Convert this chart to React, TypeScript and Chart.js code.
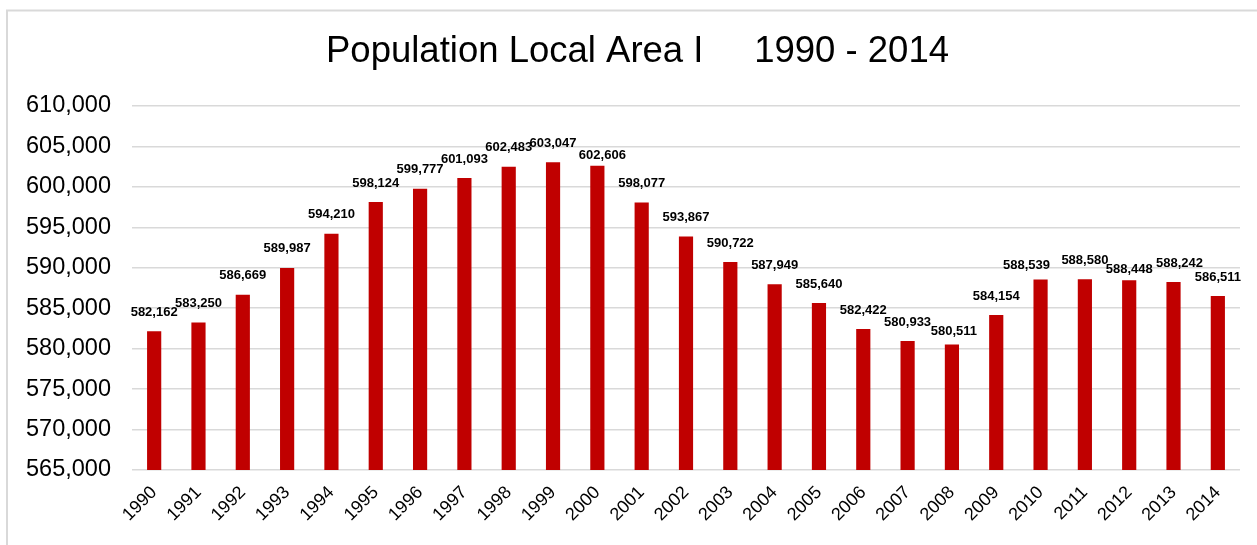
import React, { useEffect, useRef } from "react";
import { Chart, registerables } from "chart.js";

Chart.register(...registerables);

const years = [
  "1990", "1991", "1992", "1993", "1994", "1995", "1996", "1997", "1998", "1999",
  "2000", "2001", "2002", "2003", "2004", "2005", "2006", "2007", "2008", "2009",
  "2010", "2011", "2012", "2013", "2014",
];

const population = [
  582162, 583250, 586669, 589987, 594210, 598124, 599777, 601093, 602483, 603047,
  602606, 598077, 593867, 590722, 587949, 585640, 582422, 580933, 580511, 584154,
  588539, 588580, 588448, 588242, 586511,
];

// manual label nudges (px) as in the original chart, where labels were moved to avoid overlap
const labelNudgeX = [
  0, 0, 0, 0, 0, 0, 0, 0, 0, 0,
  5, 0, 0, 0, 0, 0, 0, 0, 2, 0,
  -14, 0, 0, 6, 0,
];
const labelNudgeY = [
  0, 0, 0, 0, 0, 0, 0, 0, 0, 0,
  8.5, 0, 0, 0, 0, 0, 0, 0, 6, 0,
  4.5, 0, 8, 0, 0,
];

const titleText = "Population Local Area I     1990 - 2014";
const yMin = 565000;
const yMax = 610000;
const yStep = 5000;

const FONT = "'Liberation Sans', Arial, sans-serif";

const frame = {
  id: "frame",
  beforeDraw(chart: any) {
    const ctx = chart.ctx;
    ctx.save();
    ctx.fillStyle = "#ffffff";
    ctx.fillRect(0, 0, chart.width, chart.height);
    ctx.strokeStyle = "#d9d9d9";
    ctx.lineWidth = 2;
    ctx.beginPath();
    ctx.moveTo(7, chart.height);
    ctx.lineTo(7, 10.5);
    ctx.lineTo(chart.width, 10.5);
    ctx.stroke();
    ctx.restore();
  },
  afterDraw(chart: any) {
    const ctx = chart.ctx;
    ctx.save();
    ctx.font = `36.5px ${FONT}`;
    ctx.fillStyle = "#000000";
    ctx.textAlign = "center";
    ctx.textBaseline = "middle";
    ctx.fillText(titleText, 637.5, 52);
    ctx.restore();
  },
};

const valueLabels = {
  id: "valueLabels",
  afterDatasetsDraw(chart: any) {
    const ctx = chart.ctx;
    const meta = chart.getDatasetMeta(0);
    const data = chart.data.datasets[0].data as number[];
    ctx.save();
    ctx.font = `bold 13px ${FONT}`;
    ctx.fillStyle = "#000000";
    ctx.textAlign = "center";
    ctx.textBaseline = "middle";
    meta.data.forEach((bar: any, i: number) => {
      ctx.fillText(
        data[i].toLocaleString("en-US"),
        bar.x + (labelNudgeX[i] || 0),
        bar.y - 19 + (labelNudgeY[i] || 0)
      );
    });
    ctx.restore();
  },
};

export default function App() {
  const ref = useRef<HTMLCanvasElement | null>(null);

  useEffect(() => {
    if (!ref.current) return;
    const chart = new Chart(ref.current, {
      type: "bar",
      data: {
        labels: years,
        datasets: [
          {
            data: population,
            backgroundColor: "#C00000",
            borderWidth: 0,
            barPercentage: 0.32,
            categoryPercentage: 1,
          },
        ],
      },
      options: {
        responsive: false,
        animation: false,
        layout: { padding: { left: 0, right: 17, top: 106, bottom: 0 } },
        plugins: {
          legend: { display: false },
          tooltip: { enabled: false },
          title: { display: false },
        },
        scales: {
          x: {
            grid: { display: false },
            border: { display: false },
            afterFit: (scale: any) => {
              scale.height = 75;
            },
            ticks: {
              color: "#000000",
              font: { family: FONT, size: 18 },
              minRotation: 45,
              maxRotation: 45,
              padding: 4,
            },
          },
          y: {
            min: yMin,
            max: yMax,
            border: { display: false },
            grid: { color: "#d9d9d9", lineWidth: 1.5, drawTicks: false },
            afterFit: (scale: any) => {
              scale.width = 132;
            },
            ticks: {
              stepSize: yStep,
              color: "#000000",
              padding: 21,
              font: { family: FONT, size: 23.5 },
              callback: (v: any) => Number(v).toLocaleString("en-US"),
            },
          },
        },
      },
      plugins: [frame, valueLabels],
    });
    return () => chart.destroy();
  }, []);

  return (
    <div style={{ position: "absolute", left: 0, top: 0, width: 1257, height: 545 }}>
      <canvas ref={ref} width={1257} height={545} />
    </div>
  );
}
